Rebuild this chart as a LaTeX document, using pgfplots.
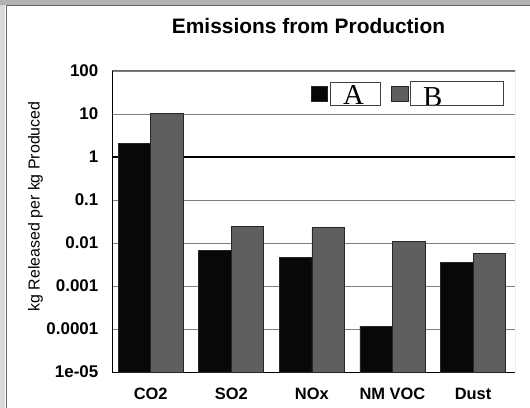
\documentclass[border=0pt]{standalone}
\usepackage{fontspec}
\setmainfont{Liberation Sans}
\newfontfamily\legserif{Liberation Serif}
\usepackage{pgfplots}
\pgfplotsset{compat=1.18}
\definecolor{barA}{HTML}{080808}
\definecolor{barB}{HTML}{5F5F5F}
\pgfplotsset{sqleg/.style={legend image code/.code={\draw[##1] (0bp,-7.5bp) rectangle (16.6bp,7.5bp);}}}
\newcommand{\legA}{{\setlength{\fboxsep}{0pt}\setlength{\fboxrule}{0.9bp}\color{black!75}\fbox{\rule[-1bp]{0pt}{22.7bp}\makebox[49bp][l]{\hspace*{12bp}\smash{\color{black}\legserif\fontsize{29}{29}\selectfont A}}}}}
\newcommand{\legB}{{\setlength{\fboxsep}{0pt}\setlength{\fboxrule}{0.9bp}\rule[-7.4bp]{0pt}{7.4bp}\color{black!75}\fbox{\rule{0pt}{23.3bp}\makebox[92bp][l]{\hspace*{12bp}\smash{\raisebox{-1.4bp}{\color{black}\legserif\fontsize{29}{29}\selectfont B}}}}}}
\begin{document}
\begin{tikzpicture}
\useasboundingbox (0,0) rectangle (530bp,408bp);
\fill[black!30] (0,403bp) rectangle (530bp,408bp);
\fill[black!15] (0,0) rectangle (5bp,403bp);
\draw[black!60, line width=1bp] (6.5bp,0) -- (6.5bp,402.5bp) -- (530bp,402.5bp);
\begin{axis}[
  at={(112bp,36bp)}, anchor=south west,
  scale only axis, width=403bp, height=301bp,
  ymode=log, log origin y=infty,
  ymin=1e-5, ymax=100,
  xmin=-0.48, xmax=4.52,
  ybar=0pt, bar width=32.5bp,
  xtick={0,...,4}, xticklabels={CO2,SO2,NOx,NM VOC,Dust},
  ytick={1e-5,1e-4,1e-3,1e-2,1e-1,1,10,100},
  yticklabels={1e-05,0.0001,0.001,0.01,0.1,1,10,100},
  ymajorgrids, major grid style={black!50, line width=0.8bp},
  extra y ticks={1}, extra y tick labels={},
  extra y tick style={major grid style={black, line width=1.4bp}},
  major tick length=0pt, minor tick length=0pt,
  axis x line*=bottom, axis y line*=left,
  axis line style={black, line width=1bp},
  xticklabel style={anchor=base, yshift=-27.3bp, font=\bfseries\fontsize{16.5}{16.5}\selectfont},
  yticklabel style={anchor=east, inner sep=0pt, xshift=-13.5bp, font=\bfseries\fontsize{17}{17}\selectfont},
  title={Emissions from Production},
  title style={at={(0.4876,1.1053)}, anchor=base, font=\bfseries\fontsize{21}{21}\selectfont},
  ylabel={kg Released per kg Produced},
  ylabel style={at={(axis description cs:-0.19,0.55)}, anchor=center, font=\fontsize{16}{16}\selectfont},
  legend columns=2,
  legend style={at={(0.9727,0.9668)}, anchor=north east, draw=none, fill=none,
    inner sep=0pt, outer sep=0pt, nodes={inner sep=0pt, outer sep=0pt},
    /tikz/every odd column/.append style={column sep=2bp},
    /tikz/every even column/.append style={column sep=10bp}},
]
\addplot[fill=barA, draw=black!85, line width=0.7bp, sqleg]
  coordinates {(0,2.1) (1,0.0066) (2,0.0046) (3,0.000117) (4,0.0035)};
\addlegendentry{\legA}
\addplot[fill=barB, draw=black!85, line width=0.7bp, sqleg]
  coordinates {(0,10.5) (1,0.0241) (2,0.0229) (3,0.011) (4,0.0056)};
\addlegendentry{\legB}
\draw[black!60, line width=1bp] (rel axis cs:0,1) -- (rel axis cs:1,1) -- (rel axis cs:1,0);
\end{axis}
\end{tikzpicture}
\end{document}
